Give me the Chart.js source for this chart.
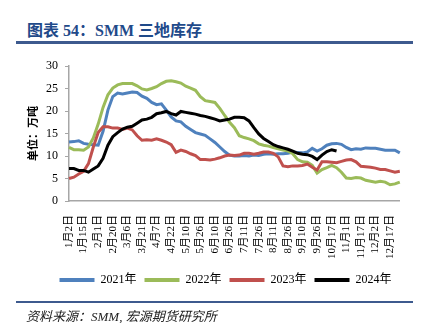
<!DOCTYPE html>
<html>
<head>
<meta charset="utf-8">
<script src="https://cdn.jsdelivr.net/npm/chart.js@4.4.1/dist/chart.umd.min.js"></script>
<style>
  body { margin: 0; background: #fff; }
  #wrap { position: relative; width: 427px; height: 323px; }
  #chart { position: absolute; left: 0; top: 0; }
  .title { position: absolute; left: 27px; top: 21px; font: bold 16px 'Liberation Serif', 'Noto Sans CJK SC'; color: #1F4A8A; line-height: 19px; white-space: nowrap; }
  .rule { position: absolute; left: 16px; width: 397px; background: #3D5A8E; }
  .source { position: absolute; left: 26px; top: 309px; font: italic 13px 'Liberation Serif', 'Noto Sans CJK SC'; color: #222; line-height: 16px; white-space: nowrap; }
</style>
</head>
<body>
<div id="wrap">
  <div class="title">图表 54：SMM 三地库存</div>
  <div class="rule" style="top:41px;height:3px"></div>
  <canvas id="chart" width="427" height="323"></canvas>
  <div class="rule" style="top:301px;height:2px"></div>
  <div class="source">资料来源：SMM, 宏源期货研究所</div>
</div>
<script>
// tick labels shown on the x axis, one every 3 data points
const tickLabels = ['1月2日', '1月15日', '2月1日', '2月20日', '3月6日', '3月21日', '4月7日', '4月22日',
  '5月10日', '5月26日', '6月10日', '6月26日', '7月11日', '7月26日', '8月11日', '8月26日',
  '9月10日', '9月26日', '10月17日', '11月1日', '11月17日', '12月2日', '12月17日'];
const pointsPerTick = 3;
const seriesNames = ['2021年', '2022年', '2023年', '2024年'];

// inventory, 万吨
const s2021 = [13.1, 13.2, 13.4, 12.8, 12.6, 12.5, 12.4, 15.5, 20.2, 23.2,
  24.0, 23.8, 24.0, 24.2, 24.1, 23.3, 22.8, 21.9, 21.4, 21.6,
  20.2, 18.7, 17.8, 17.6, 16.6, 15.9, 15.2, 14.9, 14.6, 13.8,
  13.0, 12.0, 11.0, 10.2, 10.0, 10.0, 10.1, 10.0, 10.2, 10.1,
  10.4, 10.5, 10.4, 10.5, 10.5, 10.6, 10.9, 10.8, 10.7, 10.9,
  11.7, 11.1, 11.6, 12.4, 12.7, 12.8, 12.6, 11.9, 11.4, 11.6,
  11.5, 11.8, 11.7, 11.7, 11.5, 11.3, 11.3, 11.3, 10.7];
const s2022 = [11.9, 11.4, 11.4, 11.3, 12.0, 14.0, 17.1, 20.8, 23.6, 25.1,
  25.8, 26.1, 26.1, 26.1, 25.6, 24.9, 24.7, 25.0, 25.4, 26.1,
  26.6, 26.7, 26.5, 26.2, 25.5, 25.1, 24.6, 23.2, 22.3, 22.1,
  21.9, 20.6, 19.0, 17.5, 16.3, 14.5, 14.1, 13.8, 13.4, 12.7,
  12.4, 12.2, 11.9, 11.6, 11.3, 11.1, 10.5, 9.2, 8.7, 8.6,
  7.9, 6.2, 7.0, 7.4, 7.9, 7.4, 6.4, 5.1, 5.0, 5.2,
  5.1, 4.6, 4.4, 4.2, 4.4, 4.2, 3.6, 3.8, 4.2];
const s2023 = [5.0, 5.3, 6.0, 6.6, 8.3, 12.0, 15.2, 16.5, 16.5, 16.2,
  16.2, 15.9, 16.2, 15.8, 14.5, 13.5, 13.6, 13.5, 13.8, 13.5,
  13.1, 12.5, 10.8, 11.3, 11.0, 10.5, 10.1, 9.2, 9.2, 9.1,
  9.3, 9.6, 10.0, 10.2, 10.1, 10.2, 10.6, 10.6, 10.4, 10.6,
  10.9, 10.9, 10.6, 9.8, 7.8, 7.6, 7.8, 7.8, 7.9, 8.2,
  7.5, 6.9, 8.7, 8.7, 8.6, 8.5, 8.8, 9.1, 9.2, 8.7,
  7.7, 7.6, 7.5, 7.3, 7.0, 7.0, 6.7, 6.4, 6.6];
const s2024 = [7.2, 7.2, 6.8, 6.8, 6.4, 7.1, 7.8, 9.5, 12.4, 14.3,
  15.2, 16.0, 16.4, 16.6, 17.3, 18.0, 18.2, 18.6, 19.4, 19.6,
  19.9, 19.4, 19.1, 19.9, 19.7, 19.5, 19.3, 19.0, 18.8, 18.5,
  18.2, 17.8, 18.0, 18.2, 18.6, 18.6, 18.5, 17.8, 16.3, 14.9,
  13.9, 13.2, 12.5, 12.1, 11.8, 11.5, 11.1, 10.6, 10.4, 10.3,
  9.9, 9.2, 10.2, 11.0, 11.4, 11.1];

const colors = ['#4F81BD', '#9BBB59', '#C0504D', '#000000'];
const allSeries = [s2021, s2022, s2023, s2024];

const categories = [];
for (let i = 0; i < s2021.length; i++) {
  categories.push(i % pointsPerTick === 0 ? (tickLabels[i / pointsPerTick] || '') : '');
}

const serif = "'Liberation Serif', 'Noto Sans CJK SC'";

new Chart(document.getElementById('chart'), {
  type: 'line',
  data: {
    labels: categories,
    datasets: allSeries.map((s, i) => ({
      label: seriesNames[i],
      data: s,
      borderColor: colors[i],
      backgroundColor: colors[i],
      borderWidth: 3,
      pointRadius: 0,
      tension: 0,
      fill: false,
      order: 4 - i
    }))
  },
  options: {
    responsive: false,
    animation: false,
    devicePixelRatio: 1,
    layout: { padding: { top: 66, left: 28, right: 4, bottom: 27 } },
    plugins: {
      tooltip: { enabled: false },
      legend: {
        position: 'bottom',
        labels: {
          boxWidth: 35,
          boxHeight: 4,
          padding: 8,
          color: '#000',
          font: { family: serif, size: 12 },
          generateLabels: chart => chart.data.datasets.map((ds, i) => ({
            text: ds.label,
            fillStyle: ds.borderColor,
            strokeStyle: ds.borderColor,
            lineWidth: 0,
            hidden: false,
            datasetIndex: i,
            fontColor: '#000'
          }))
        }
      }
    },
    scales: {
      x: {
        offset: false,
        grid: { display: false, drawTicks: false },
        border: { color: '#A6A6A6', width: 1.5 },
        ticks: {
          autoSkip: false,
          minRotation: 90,
          maxRotation: 90,
          padding: 14,
          color: '#000',
          font: { family: serif, size: 11 }
        },
        afterFit: scale => { scale.height = 65; }
      },
      y: {
        min: 0,
        max: 30,
        grid: { drawOnChartArea: false, tickLength: 4, color: '#A6A6A6' },
        border: { color: '#A6A6A6', width: 1.5 },
        ticks: { stepSize: 5, padding: 7, color: '#000', font: { family: serif, size: 12 } },
        title: {
          display: true,
          text: '单位：万吨',
          color: '#000',
          padding: 0,
          font: { family: serif, size: 11, weight: 'bold' }
        },
        afterFit: scale => { scale.width = 41; }
      },
      yRight: {
        position: 'right',
        display: true,
        grid: { display: false },
        border: { display: false },
        ticks: { display: false },
        afterFit: scale => { scale.width = 20; }
      }
    }
  }
});
</script>
</body>
</html>
